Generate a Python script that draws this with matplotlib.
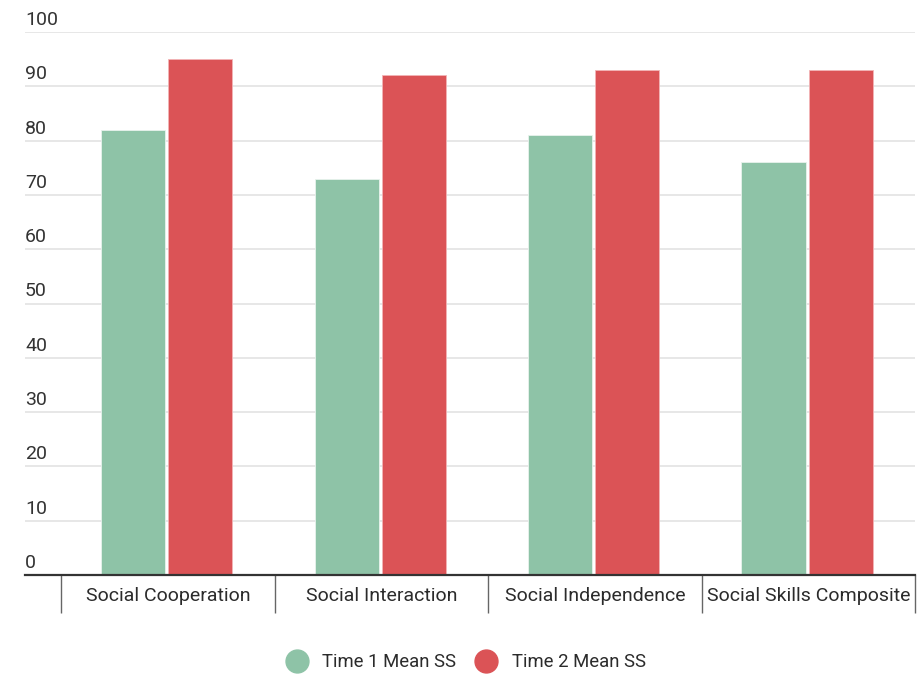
import matplotlib.pyplot as plt
from matplotlib.lines import Line2D
import numpy as np

categories = ['Social Cooperation', 'Social Interaction', 'Social Independence', 'Social Skills Composite']
time1 = [82, 73, 81, 76]
time2 = [95, 92, 93, 93]
series_names = ['Time 1 Mean SS', 'Time 2 Mean SS']
yticks = [0, 10, 20, 30, 40, 50, 60, 70, 80, 90, 100]

green = '#8ec3a7'
red = '#db5356'

plt.rcParams['font.family'] = ['Roboto', 'DejaVu Sans']

fig = plt.figure(figsize=(9.2, 6.74), dpi=100)
ax = fig.add_axes([25 / 920, 99 / 674, 890 / 920, 543 / 674])

x = np.arange(len(categories))
w = 0.3
ax.bar(x - 0.163, time1, w, color=green, edgecolor='#e8f3ed', linewidth=0.6, zorder=3)
ax.bar(x + 0.152, time2, w, color=red, edgecolor='#f2b5b6', linewidth=0.6, zorder=3)

ax.set_xlim(-0.67, 3.5)
ax.set_ylim(0, 100)

# gridlines, labels sit above the line at the left edge
for v in yticks[1:]:
    ax.axhline(v, color='#e0e0e0', linewidth=1.1, zorder=1)
ax.set_yticks([])
for v in yticks:
    ax.text(0.0, v + 1.3, str(v), transform=ax.get_yaxis_transform(),
            ha='left', va='baseline', fontsize=14, color='#333333')

# category separators as long ticks, labels on minor ticks
ax.set_xticks(np.arange(len(categories) + 1) - 0.5)
ax.set_xticklabels([])
ax.tick_params(axis='x', which='major', length=27.5, width=1, color='#666666', direction='out')
ax.set_xticks(x, minor=True)
ax.set_xticklabels(categories, minor=True, fontsize=14, color='#2b2b2b')
ax.tick_params(axis='x', which='minor', length=0, pad=8.5)

for s in ['top', 'right', 'left']:
    ax.spines[s].set_visible(False)
ax.spines['bottom'].set_color('#333333')
ax.spines['bottom'].set_linewidth(1.6)
ax.spines['bottom'].set_zorder(4)

handles = [Line2D([], [], marker='o', linestyle='', markersize=16.5, color=c) for c in (green, red)]
fig.legend(handles, series_names, loc='center', bbox_to_anchor=(462 / 920, 1 - 662 / 674),
           ncol=2, frameon=False, fontsize=13.3, handletextpad=0.4, columnspacing=0.6,
           labelcolor='#2b2b2b')

fig.savefig('out.png', dpi=100)
